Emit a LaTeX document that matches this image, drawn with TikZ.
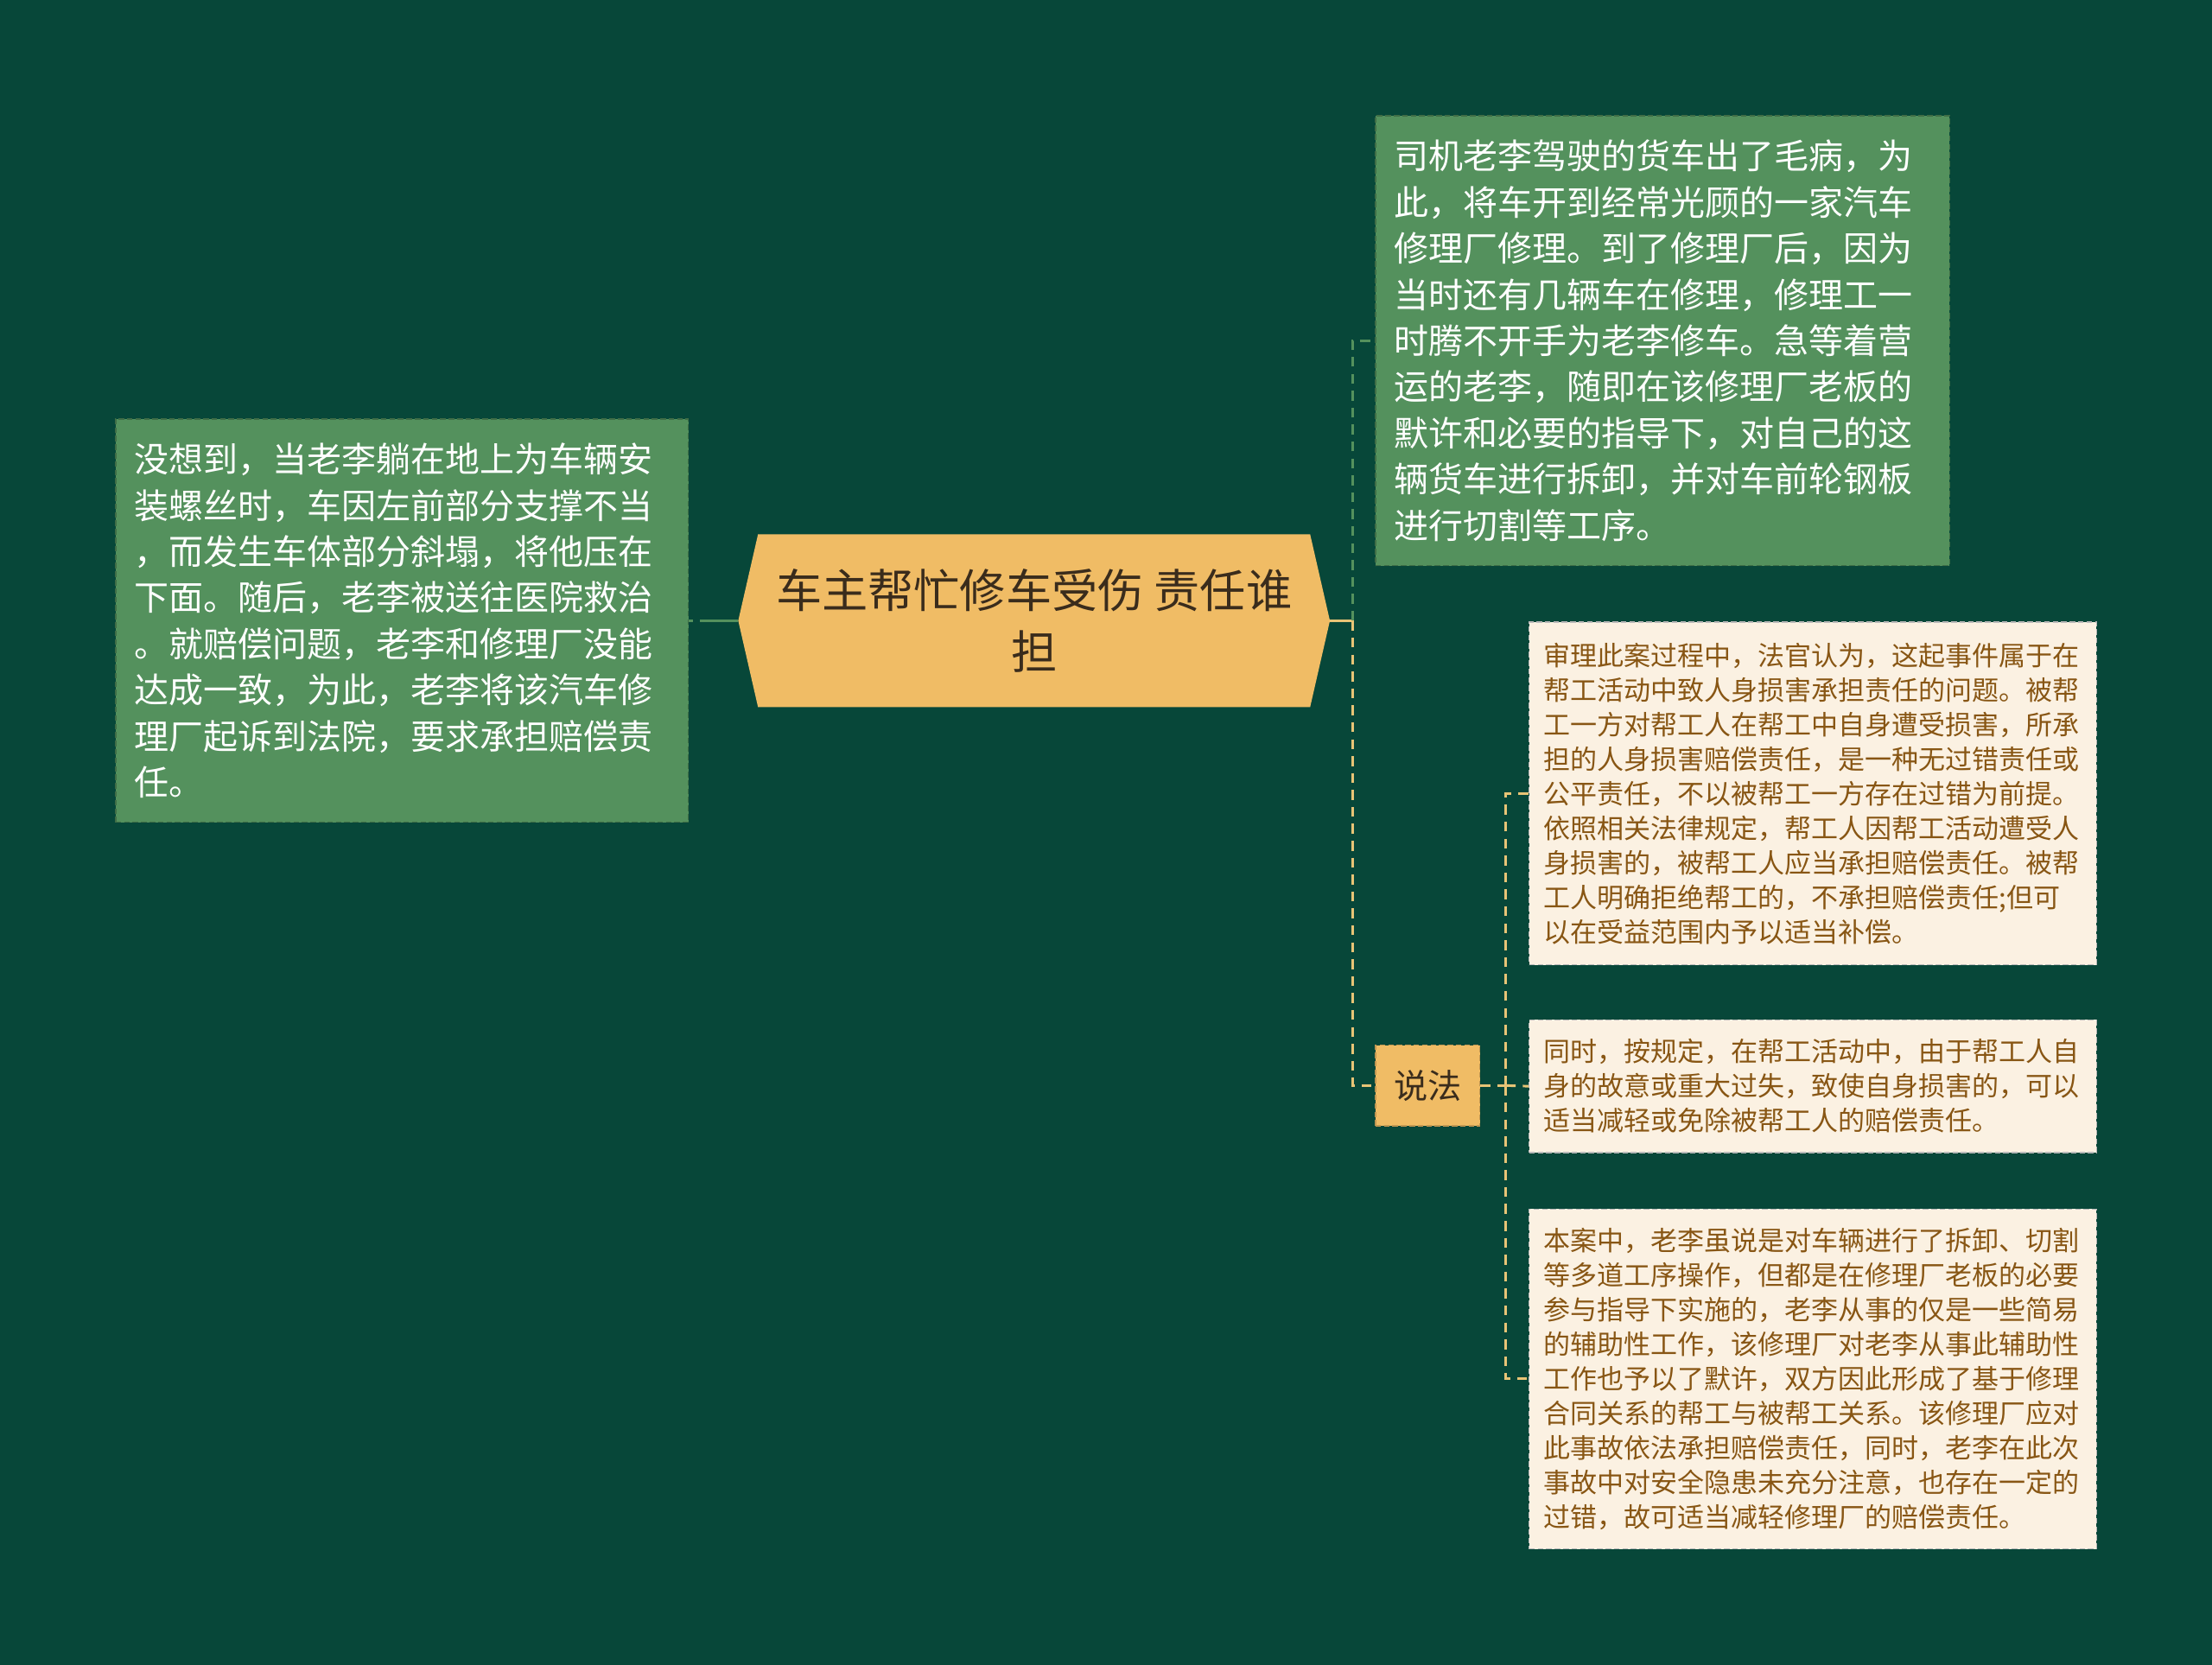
\documentclass[tikz,border=0pt]{standalone}
\usepackage{fontspec}
\newfontfamily\cjk{Noto Sans CJK SC}
\usetikzlibrary{positioning,backgrounds}
\definecolor{bgdark}{RGB}{7,71,57}
\definecolor{leafgreen}{RGB}{84,145,93}
\definecolor{rootgold}{RGB}{240,188,101}
\definecolor{notecream}{RGB}{251,241,226}
\definecolor{notebrown}{RGB}{136,86,20}
\definecolor{linegold}{RGB}{232,196,118}
\definecolor{rootink}{RGB}{58,44,28}

\tikzset{
  greenbox/.style={fill=leafgreen, draw=leafgreen!75!black, dash pattern=on 4pt off 2pt,
    line width=0.8pt, text=white, inner xsep=13pt, align=left,
    font=\cjk\fontsize{24.5}{32.7}\selectfont},
  creambox/.style={fill=notecream, draw=gray!55, dash pattern=on 4pt off 2pt,
    line width=0.8pt, text=notebrown, inner xsep=10pt, text width=382pt,
    minimum width=402pt, align=left, font=\cjk\fontsize{19}{24.5}\selectfont},
  greenlink/.style={draw=leafgreen, line width=1.8pt, dash pattern=on 7pt off 5pt},
  goldlink/.style={draw=linegold, line width=1.8pt, dash pattern=on 7pt off 5pt},
}

\begin{document}
\begin{tikzpicture}[x=1pt,y=-1pt]
            % background
            \begin{scope}[on background layer]
                \fill[bgdark] (0,0) rectangle (1568,1180);
            \end{scope}
            \useasboundingbox (0,0) rectangle (1568,1180);

            % central topic
            \node[minimum width=419pt, minimum height=122pt, text=rootink, align=center,
                font=\cjk\fontsize{32.6}{43}\selectfont] (root) at (733,440)
                {车主帮忙修车受伤 责任谁\\担};
            \begin{scope}[on background layer]
                \fill[rootgold] (root.west) -- ([xshift=14pt]root.north west)
                    -- ([xshift=-14pt]root.north east) -- (root.east)
                    -- ([xshift=-14pt]root.south east) -- ([xshift=14pt]root.south west) -- cycle;
            \end{scope}

            % left branch
            \node[greenbox, text width=380pt, minimum width=406pt, minimum height=286pt] (story) at (285,440)
                {没想到，当老李躺在地上为车辆安\\装螺丝时，车因左前部分支撑不当\\，而发生车体部分斜塌，将他压在\\下面。随后，老李被送往医院救治\\。就赔偿问题，老李和修理厂没能\\达成一致，为此，老李将该汽车修\\理厂起诉到法院，要求承担赔偿责\\任。};

            % right branches
            \node[greenbox, text width=381pt, minimum width=407pt, minimum height=319pt] (repair) at (1178.5,241.5)
                {司机老李驾驶的货车出了毛病，为\\此，将车开到经常光顾的一家汽车\\修理厂修理。到了修理厂后，因为\\当时还有几辆车在修理，修理工一\\时腾不开手为老李修车。急等着营\\运的老李，随即在该修理厂老板的\\默许和必要的指导下，对自己的这\\辆货车进行拆卸，并对车前轮钢板\\进行切割等工序。};
            \node[fill=rootgold, draw=rootgold!80!black, dash pattern=on 4pt off 2pt, line width=0.8pt,
                text=rootink, minimum width=74pt, minimum height=57pt,
                font=\cjk\fontsize{24}{30}\selectfont] (shuofa) at (1012,769.5) {说法};

            \node[creambox, minimum height=243pt] (ruling) at (1285,562.5)
                {审理此案过程中，法官认为，这起事件属于在\\帮工活动中致人身损害承担责任的问题。被帮\\工一方对帮工人在帮工中自身遭受损害，所承\\担的人身损害赔偿责任，是一种无过错责任或\\公平责任，不以被帮工一方存在过错为前提。\\依照相关法律规定，帮工人因帮工活动遭受人\\身损害的，被帮工人应当承担赔偿责任。被帮\\工人明确拒绝帮工的，不承担赔偿责任;但可\\以在受益范围内予以适当补偿。};
            \node[creambox, minimum height=94pt] (relief) at (1285,770)
                {同时，按规定，在帮工活动中，由于帮工人自\\身的故意或重大过失，致使自身损害的，可以\\适当减轻或免除被帮工人的赔偿责任。};
            \node[creambox, minimum height=241pt] (verdict) at (1285,977.5)
                {本案中，老李虽说是对车辆进行了拆卸、切割\\等多道工序操作，但都是在修理厂老板的必要\\参与指导下实施的，老李从事的仅是一些简易\\的辅助性工作，该修理厂对老李从事此辅助性\\工作也予以了默许，双方因此形成了基于修理\\合同关系的帮工与被帮工关系。该修理厂应对\\此事故依法承担赔偿责任，同时，老李在此次\\事故中对安全隐患未充分注意，也存在一定的\\过错，故可适当减轻修理厂的赔偿责任。};

            % connectors
            \draw[greenlink, dash pattern=on 3pt off 5pt on 30pt] (story.east) -- (root.west);
            \coordinate (fork) at ([xshift=16pt]root.east);
            \draw[draw=linegold, line width=1.8pt] (root.east) -- (fork);
            \draw[greenlink] (fork) |- (repair.west);
            \draw[goldlink] (fork) |- (shuofa.west);
            \coordinate (split) at ([xshift=18pt]shuofa.east);
            \draw[goldlink] (shuofa.east) -- (split);
            \draw[goldlink] (split) |- (ruling.west);
            \draw[goldlink] (split) |- (verdict.west);
            \draw[goldlink] (split) -- (relief.west);
\end{tikzpicture}
\end{document}
